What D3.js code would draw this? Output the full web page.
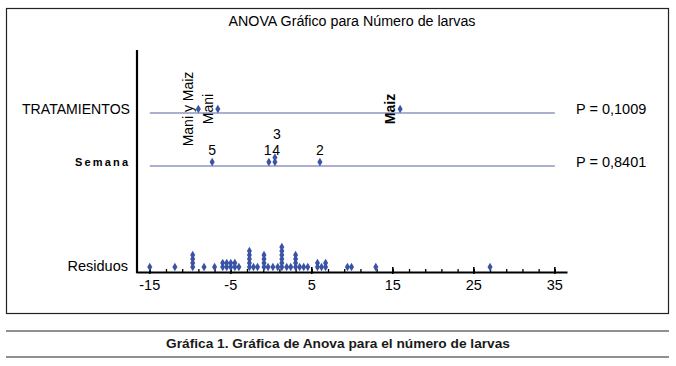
<!DOCTYPE html>
<html>
<head>
<meta charset="utf-8">
<script src="https://cdn.jsdelivr.net/npm/d3@7.9.0/dist/d3.min.js"></script>
<style>
  html, body { margin: 0; padding: 0; background: #fff; }
  svg { display: block; font-family: "Liberation Sans", Arial, sans-serif; }
</style>
</head>
<body>
<svg id="chart" width="676" height="366"></svg>
<script>
// chart values
const xTickLabels = [-15, -5, 5, 15, 25, 35];
const rows = ['TRATAMIENTOS', 'Semana', 'Residuos'];
const pValues = ['P = 0,1009', 'P = 0,8401'];

const tratLabels = ['Mani y Maiz', 'Mani', 'Maiz'];
const tratEffects = [-9.0, -6.6, 15.9];

const semanaLabels = ['5', '1', '4', '3', '2'];
const semanaEffects = [-7.3, -0.3, 0.45, 0.45, 6.0];

const residuals = [
  -15.0, -11.9,
  -9.7, -9.7, -9.7, -9.7,
  -8.3, -7.0,
  -6.0, -6.0, -5.5, -5.5, -5.0, -5.0, -4.5, -4.5, -4.0,
  -2.7, -2.7, -2.7, -2.7, -2.7,
  -2.2, -1.7,
  -0.9, -0.9, -0.9, -0.9,
  -0.4, 0.2, 0.8,
  1.3, 1.3, 1.3, 1.3, 1.3, 1.3,
  1.9, 2.4,
  3.0, 3.0, 3.0, 3.0,
  3.5, 4.0, 4.5,
  5.7, 5.7, 6.2, 6.7, 6.7,
  9.4, 9.9, 12.9, 27.0
];

const svg = d3.select('#chart');
const blue = '#3a53a4';
const lineBlue = '#56639f';

const x = d3.scaleLinear().domain([-16.7, 36.5]).range([136, 567]);
const rowY = d3.scaleOrdinal().domain(rows).range([113, 166, 272]);

// frame + caption lines
svg.append('rect').attr('x', 6.5).attr('y', 8.5).attr('width', 662).attr('height', 305)
  .attr('fill', 'none').attr('stroke', '#222').attr('stroke-width', 1.2);
[331, 357].forEach(y => {
  svg.append('line').attr('x1', 6).attr('x2', 669).attr('y1', y).attr('y2', y)
    .attr('stroke', '#222').attr('stroke-width', 1.2);
});

svg.append('text').attr('x', 352).attr('y', 26).attr('text-anchor', 'middle')
  .attr('font-size', 14).attr('textLength', 247).attr('lengthAdjust', 'spacingAndGlyphs')
  .text('ANOVA Gráfico para Número de larvas');

svg.append('text').attr('x', 338).attr('y', 348).attr('text-anchor', 'middle')
  .attr('font-size', 13.5).attr('font-weight', 'bold').attr('fill', '#1a1a1a')
  .attr('textLength', 344).attr('lengthAdjust', 'spacingAndGlyphs')
  .text('Gráfica 1. Gráfica de Anova para el número de larvas');

// horizontal axis
const axis = d3.axisBottom(x)
  .tickValues(d3.range(-15, 36, 2))
  .tickSizeInner(-3).tickSizeOuter(0)
  .tickFormat('');
const gx = svg.append('g').attr('transform', `translate(0,${rowY('Residuos')})`).call(axis);
gx.select('.domain').attr('stroke', '#000').attr('stroke-width', 2.2);
gx.selectAll('.tick line').attr('stroke', '#000').attr('stroke-width', 1.3);

const major = svg.append('g').attr('transform', `translate(0,${rowY('Residuos')})`);
major.selectAll('line').data(xTickLabels).join('line')
  .attr('x1', d => x(d)).attr('x2', d => x(d)).attr('y1', -5).attr('y2', 2)
  .attr('stroke', '#000').attr('stroke-width', 1.6);
major.selectAll('text').data(xTickLabels).join('text')
  .attr('x', d => x(d)).attr('y', 18).attr('text-anchor', 'middle')
  .attr('font-size', 14.5).text(d => d);

// vertical axis
svg.append('line').attr('x1', 137).attr('x2', 137).attr('y1', 50).attr('y2', 273)
  .attr('stroke', '#000').attr('stroke-width', 2.2);

// factor lines
rows.slice(0, 2).forEach(r => {
  svg.append('line').attr('x1', x(-15)).attr('x2', x(35))
    .attr('y1', rowY(r)).attr('y2', rowY(r))
    .attr('stroke', lineBlue).attr('stroke-width', 1.2);
});

// row labels
svg.append('text').attr('x', 130).attr('y', rowY('TRATAMIENTOS') + 1)
  .attr('text-anchor', 'end').attr('font-size', 14)
  .attr('textLength', 108).attr('lengthAdjust', 'spacingAndGlyphs').text('TRATAMIENTOS');
svg.append('text').attr('x', 128).attr('y', rowY('Semana') + 0)
  .attr('text-anchor', 'end').attr('font-size', 11).attr('font-weight', 'bold')
  .attr('textLength', 53).attr('lengthAdjust', 'spacing').text('Semana');
svg.append('text').attr('x', 128).attr('y', rowY('Residuos') - 1)
  .attr('text-anchor', 'end').attr('font-size', 14.5).text('Residuos');

svg.selectAll('.pval').data(pValues).join('text').attr('class', 'pval')
  .attr('x', 576).attr('y', (d, i) => rowY(rows[i]) + 1)
  .attr('font-size', 14.5).text(d => d);

// stacked dots helper
const diamond = d3.symbol().type(d3.symbolDiamond).size(22);
function stack(values, binW) {
  const counts = new Map();
  return values.map((v, i) => {
    const b = Math.round(v / binW);
    const lvl = counts.get(b) || 0;
    counts.set(b, lvl + 1);
    return { v, i, level: lvl };
  });
}

// TRATAMIENTOS
const tData = stack(tratEffects, 0.5);
const ty = rowY('TRATAMIENTOS') - 4;
svg.selectAll('.tdot').data(tData).join('path').attr('class', 'tdot')
  .attr('d', diamond).attr('fill', blue)
  .attr('transform', d => `translate(${x(d.v)},${ty - d.level * 4})`);
svg.selectAll('.tlab').data(tData).join('text').attr('class', 'tlab')
  .attr('transform', d => `translate(${x(d.v) - 5},${ty}) rotate(-90)`)
  .attr('text-anchor', 'middle').attr('font-size', 14)
  .attr('font-weight', (d, i) => i === 2 ? 'bold' : 'normal')
  .text((d, i) => tratLabels[i]);

// Semana
const sData = stack(semanaEffects, 0.5);
const sy = rowY('Semana') - 4;
// push apart labels on the same row that sit too close together
sData.forEach(d => { d.lx = x(d.v) + d.level * 2; });
const base = sData.filter(d => d.level === 0).sort((a, b) => a.lx - b.lx);
for (let k = 1; k < base.length; k++) {
  const gap = base[k].lx - base[k - 1].lx;
  if (gap < 8.5) {
    const push = (8.5 - gap) / 2;
    base[k - 1].lx -= push;
    base[k].lx += push;
  }
}
svg.selectAll('.sdot').data(sData).join('path').attr('class', 'sdot')
  .attr('d', diamond).attr('fill', blue)
  .attr('transform', d => `translate(${x(d.v)},${sy - d.level * 4.5})`);
svg.selectAll('.slab').data(sData).join('text').attr('class', 'slab')
  .attr('x', d => d.lx).attr('y', d => sy - 7 - d.level * 16.5)
  .attr('text-anchor', 'middle').attr('font-size', 14)
  .text((d, i) => semanaLabels[i]);

// Residuos
const rData = stack(residuals, 0.5);
const ry = rowY('Residuos') - 5;
svg.selectAll('.rdot').data(rData).join('path').attr('class', 'rdot')
  .attr('d', diamond).attr('fill', blue)
  .attr('transform', d => `translate(${x(d.v)},${ry - d.level * 4})`);
</script>
</body>
</html>
